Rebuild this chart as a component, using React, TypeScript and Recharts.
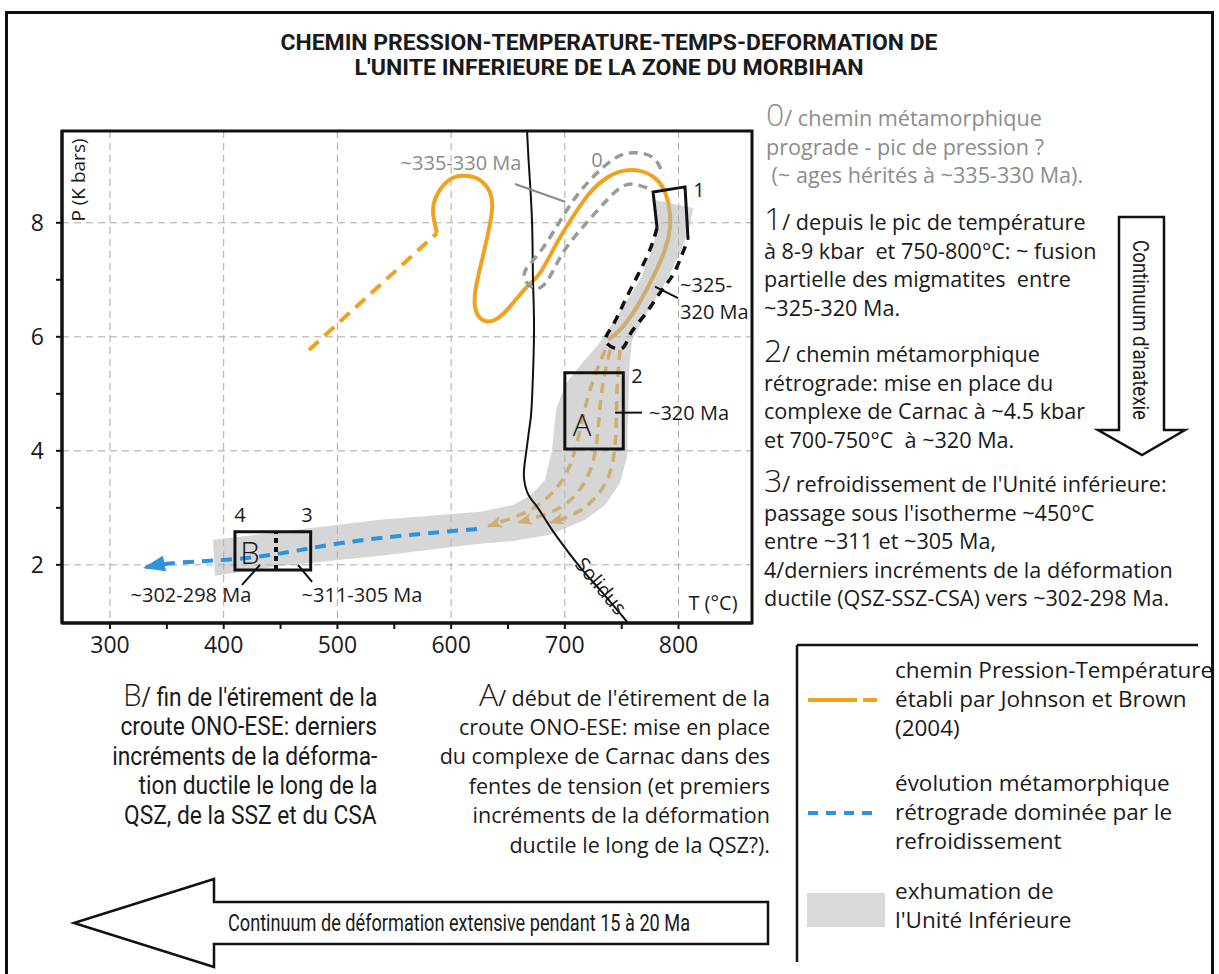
import React from "react";
import {
  ScatterChart,
  Scatter,
  XAxis,
  YAxis,
  CartesianGrid,
  ReferenceArea,
} from "recharts";

// axes
const tempTicks = [300, 350, 400, 450, 500, 550, 600, 650, 700, 750, 800];
const tempLabels = [300, 400, 500, 600, 700, 800];
const pressTicks = [2, 3, 4, 5, 6, 7, 8];
const pressLabels = [2, 4, 6, 8];
const tempDomain = [257.8, 864.6];
const pressDomain = [0.98, 9.61];

// paths, each point is [T (°C), P (kbar)]
const solidus = [
  [666.8, 9.61], [668.5, 8.98], [671.2, 8.0], [672.0, 7.0], [672.9, 6.07],
  [671.1, 4.89], [669.5, 4.5], [665.5, 3.9], [664.0, 3.55], [667.5, 3.25],
  [675.5, 3.02], [684.3, 2.75], [693.1, 2.49], [713.4, 1.96], [731.0, 1.56],
  [755.6, 0.98],
];
const jbDashed = [[475.0, 5.77], [587.6, 7.82]];
const jbSolid = [
  [587.6, 7.82], [584.1, 8.23], [590.2, 8.58], [601.7, 8.79], [614.0, 8.82],
  [625.4, 8.75], [634.2, 8.53], [636.0, 8.23], [632.5, 7.82], [627.2, 7.35],
  [621.9, 6.88], [621.0, 6.53], [627.2, 6.3], [638.6, 6.3], [651.8, 6.53],
  [666.8, 6.88], [678.2, 7.12], [693.1, 7.65], [707.2, 8.11], [722.2, 8.53],
  [737.1, 8.79], [751.2, 8.91], [766.1, 8.91], [777.6, 8.81], [786.4, 8.61],
  [791.6, 8.28], [792.5, 7.93], [788.1, 7.53], [777.6, 7.05], [763.5, 6.53],
  [748.5, 6.12], [738.0, 5.95],
];
const fanRight = [
  [748.5, 5.77], [745.9, 5.07], [745.0, 4.37], [741.5, 3.75], [730.9, 3.28],
  [711.6, 2.93], [687.0, 2.74],
];
const fanMid = [
  [739.8, 5.77], [732.7, 5.07], [729.2, 4.37], [723.9, 3.75], [711.6, 3.28],
  [691.4, 2.96], [658.8, 2.74],
];
const fanLeft = [
  [735.4, 5.77], [722.2, 5.07], [713.4, 4.37], [704.6, 3.75], [691.4, 3.32],
  [669.4, 2.96], [632.5, 2.68],
];
const cooling = [
  [622.8, 2.63], [537.5, 2.47], [478.5, 2.3], [420.5, 2.12], [361.6, 2.04],
  [329.9, 1.95],
];
const exhumation = [
  [779.3, 8.4], [812.8, 8.26], [810.1, 7.96], [801.3, 7.47], [789.9, 7.0],
  [772.3, 6.42], [759.1, 5.95], [756.5, 5.42], [755.6, 4.6], [754.7, 3.89],
  [748.5, 3.44], [735.4, 3.05], [717.8, 2.79], [687.0, 2.53], [654.4, 2.42],
  [625.4, 2.37], [537.5, 2.16], [449.5, 1.98], [392.3, 1.81], [390.6, 2.44],
  [449.5, 2.58], [537.5, 2.79], [625.4, 2.93], [654.4, 3.05], [669.4, 3.21],
  [682.6, 3.49], [688.7, 4.02], [692.3, 4.72], [700.2, 5.16], [717.8, 5.6],
  [729.2, 5.86], [745.9, 6.35], [766.1, 7.0], [777.6, 7.58], [781.1, 7.96],
];
const prograde0 = [
  [772.3, 8.61], [754.7, 8.67], [737.1, 8.4], [716.0, 7.93], [695.8, 7.39],
  [678.2, 6.86], [664.1, 7.07], [678.2, 7.49], [702.0, 8.23], [722.2, 8.75],
  [742.4, 9.11], [760.0, 9.23], [777.6, 9.14], [786.4, 8.84],
];
const peakBracket = [[781.1, 7.91], [777.6, 8.54], [805.7, 8.63], [808.4, 7.7]];
const meltOutline = [
  [781.1, 7.91], [774.9, 7.53], [764.4, 7.09], [752.1, 6.6], [741.5, 6.18],
  [736.2, 5.91], [749.4, 5.79], [757.3, 6.04], [770.5, 6.39], [783.6, 6.77],
  [795.1, 7.09], [803.0, 7.44], [808.4, 7.7],
];
// emplacement box (A) and late-deformation box (B)
const boxAT = [700, 751.4];
const boxAP = [4.03, 5.37];
const boxBT = [409.9, 476.5];
const boxBP = [1.91, 2.58];
const boxBSplit = 446;

const leaders = [
  { pts: [[656.2, 8.68], [700.2, 8.37]], color: "#8a8a8a" },
  { pts: [[779.3, 6.88], [799.6, 6.68]], color: "#111" },
  { pts: [[744.2, 4.67], [767.9, 4.67]], color: "#111" },
  { pts: [[431.9, 2.0], [416.1, 1.65]], color: "#111" },
  { pts: [[465.3, 2.0], [477.7, 1.7]], color: "#111" },
];

const notes = [
  { T: 608.7, P: 9.05, text: "~335-330 Ma", color: "#8a8a8a" },
  { T: 728.3, P: 9.11, text: "0", color: "#8a8a8a" },
  { T: 818.0, P: 8.58, text: "1" },
  { T: 801.3, P: 6.91, text: "~325-", anchor: "start" },
  { T: 801.3, P: 6.44, text: "320 Ma", anchor: "start" },
  { T: 763.5, P: 5.32, text: "2" },
  { T: 809.2, P: 4.67, text: "~320 Ma" },
  { T: 715.1, P: 4.46, text: "A", size: 31, weight: 300 },
  { T: 414.3, P: 2.88, text: "4" },
  { T: 473.3, P: 2.88, text: "3" },
  { T: 423.1, P: 2.21, text: "B", size: 31, weight: 300 },
  { T: 521.6, P: 1.47, text: "~311-305 Ma" },
  { T: 371.2, P: 1.47, text: "~302-298 Ma" },
  { T: 271.9, P: 8.75, text: "P (K bars)", rotate: -90, size: 19 },
  { T: 830.3, P: 1.33, text: "T (°C)" },
  { T: 731.8, P: 1.63, text: "Solidus", rotate: 50 },
];

const W = 1219;
const H = 974;
const INK = "#1a1a1a";
const ORANGE = "#f0a21e";
const BLUE = "#2b93e0";
const GREY = "#8c8c8c";
const SANS = "'Open Sans', 'Noto Sans', sans-serif";
const COND = "Roboto, 'Liberation Sans', sans-serif";

const pts = (a: number[][]) => a.map(([T, P]) => ({ T, P }));
const rect = (t: number[], p: number[]) => [[t[0], p[0]], [t[1], p[0]], [t[1], p[1]], [t[0], p[1]]];
const NoDot = () => <g />;

function pathSeries(key: string, data: number[][], line: any, joint = "natural") {
  return (
    <Scatter
      key={key}
      name={key}
      data={pts(data)}
      shape={NoDot}
      line={line}
      lineJointType={joint as any}
      isAnimationActive={false}
      legendType="none"
    />
  );
}

const NoteText = (p: any) => {
  const a = p.payload || {};
  return (
    <text
      x={p.cx}
      y={p.cy}
      dy="0.36em"
      textAnchor={a.anchor || "middle"}
      fontSize={a.size || 20}
      fontWeight={a.weight || 400}
      fill={a.color || INK}
      fontFamily={SANS}
      transform={a.rotate ? `rotate(${a.rotate} ${p.cx} ${p.cy})` : undefined}
    >
      {a.text}
    </text>
  );
};

const Big = ({ c }: { c: string }) => (
  <span style={{ fontFamily: SANS, fontSize: 32, fontWeight: 300, lineHeight: 0 }}>{c}</span>
);

type BlockProps = {
  lines: React.ReactNode[];
  x: number;
  top: number;
  lh: number;
  size: number;
  color?: string;
  align?: "left" | "right";
  family?: string;
  squeeze?: number;
};

function LineBlock({ lines, x, top, lh, size, color = INK, align = "left", family = SANS, squeeze = 1 }: BlockProps) {
  return (
    <>
      {lines.map((ln, i) => (
        <div
          key={i}
          style={{
            position: "absolute",
            top: top + i * lh,
            height: lh,
            lineHeight: `${lh}px`,
            fontSize: size,
            fontFamily: family,
            color,
            whiteSpace: "pre",
            transform: squeeze !== 1 ? `scaleX(${squeeze})` : undefined,
            transformOrigin: align === "right" ? "right center" : "left center",
            ...(align === "right" ? { right: W - x, textAlign: "right" as const } : { left: x }),
          }}
        >
          {ln}
        </div>
      ))}
    </>
  );
}

function PTChart() {
  const tickStyle = { fontSize: 23, fill: INK, fontFamily: SANS };
  return (
    <ScatterChart width={760} height={680} margin={{ top: 131, right: 8, bottom: 17, left: 2 }}>
      <CartesianGrid
        horizontalValues={pressLabels}
        verticalValues={tempLabels}
        stroke="#a8a8a8"
        strokeDasharray="7 5"
      />
      <XAxis
        type="number"
        dataKey="T"
        domain={tempDomain}
        ticks={tempTicks}
        interval={0}
        allowDataOverflow
        height={40}
        tickSize={6}
        tickMargin={8}
        axisLine={{ stroke: "#111", strokeWidth: 3 }}
        tickLine={{ stroke: "#111", strokeWidth: 2 }}
        tick={tickStyle}
        tickFormatter={(v: number) => (tempLabels.includes(v) ? String(v) : "")}
      />
      <YAxis
        type="number"
        dataKey="P"
        domain={pressDomain}
        ticks={pressTicks}
        interval={0}
        allowDataOverflow
        width={60}
        tickSize={6}
        tickMargin={12}
        axisLine={{ stroke: "#111", strokeWidth: 3 }}
        tickLine={{ stroke: "#111", strokeWidth: 2 }}
        tick={tickStyle}
        tickFormatter={(v: number) => (pressLabels.includes(v) ? String(v) : "")}
      />

      {pathSeries("jbDashed", jbDashed, { stroke: ORANGE, strokeWidth: 4, strokeDasharray: "13 8" }, "linear")}
      {pathSeries("jbSolid", jbSolid, { stroke: ORANGE, strokeWidth: 4 })}
      {pathSeries("fanRight", fanRight, { stroke: ORANGE, strokeWidth: 3.5, strokeDasharray: "10 7", markerEnd: "url(#orangeHead)" })}
      {pathSeries("fanMid", fanMid, { stroke: ORANGE, strokeWidth: 3.5, strokeDasharray: "10 7", markerEnd: "url(#orangeHead)" })}
      {pathSeries("fanLeft", fanLeft, { stroke: ORANGE, strokeWidth: 3.5, strokeDasharray: "10 7", markerEnd: "url(#orangeHead)" })}
      {pathSeries("exhumation", exhumation, { stroke: "none", fill: "#b4b4b4", fillOpacity: 0.55 }, "linearClosed")}
      {pathSeries("solidus", solidus, { stroke: "#111", strokeWidth: 2 })}
      {pathSeries("prograde0", prograde0, { stroke: "#9a9a9a", strokeWidth: 3.5, strokeDasharray: "9 6" })}
      {pathSeries("meltOutline", meltOutline, { stroke: "#111", strokeWidth: 3.5, strokeDasharray: "9 7" })}
      {pathSeries("peakBracket", peakBracket, { stroke: "#111", strokeWidth: 3 }, "linear")}
      {pathSeries("boxA", rect(boxAT, boxAP), { stroke: "#111", strokeWidth: 3 }, "linearClosed")}
      {pathSeries("boxB", rect(boxBT, boxBP), { stroke: "#111", strokeWidth: 3 }, "linearClosed")}
      {pathSeries("boxBSplit", [[boxBSplit, boxBP[0]], [boxBSplit, boxBP[1]]], { stroke: "#111", strokeWidth: 4, strokeDasharray: "5 4" }, "linear")}
      {leaders.map((l, i) => pathSeries(`leader${i}`, l.pts, { stroke: l.color, strokeWidth: 2 }, "linear"))}
      {pathSeries("cooling", cooling, { stroke: BLUE, strokeWidth: 4, strokeDasharray: "11 8", markerEnd: "url(#blueHead)" })}

      <ReferenceArea
        x1={tempDomain[0]}
        x2={tempDomain[1]}
        y1={pressDomain[0]}
        y2={pressDomain[1]}
        fill="none"
        stroke="#111"
        strokeWidth={3}
        ifOverflow="visible"
      />
      <Scatter data={notes} shape={NoteText} isAnimationActive={false} legendType="none" />
    </ScatterChart>
  );
}

export default function App() {
  return (
    <div style={{ position: "absolute", left: 0, top: 0, width: W, height: H, background: "#fff", overflow: "hidden", color: INK }}>
      <svg width={0} height={0} style={{ position: "absolute" }}>
        <defs>
          <marker id="blueHead" viewBox="0 0 22 16" refX="21" refY="8" markerWidth="22" markerHeight="16" markerUnits="userSpaceOnUse" orient="auto">
            <path d="M0,0 L22,8 L0,16 Z" fill={BLUE} />
          </marker>
          <marker id="orangeHead" viewBox="0 0 15 12" refX="14" refY="6" markerWidth="15" markerHeight="12" markerUnits="userSpaceOnUse" orient="auto">
            <path d="M0,0 L15,6 L0,12 L4,6 Z" fill={ORANGE} />
          </marker>
        </defs>
      </svg>

      {/* outer frame */}
      <div style={{ position: "absolute", left: 5, top: 11, width: 1209, height: 1000, border: "3px solid #111", boxSizing: "border-box" }} />

      {/* title, arrows and legend symbols */}
      <svg width={W} height={H} style={{ position: "absolute", left: 0, top: 0 }}>
        <g fontFamily={COND} fontWeight={700} fontSize={21.5} fill={INK} textAnchor="middle">
          <text x={609} y={49.5} textLength={657} lengthAdjust="spacingAndGlyphs">
            CHEMIN PRESSION-TEMPERATURE-TEMPS-DEFORMATION DE
          </text>
          <text x={609} y={74.5} textLength={509} lengthAdjust="spacingAndGlyphs">
            L'UNITE INFERIEURE DE LA ZONE DU MORBIHAN
          </text>
        </g>
        <polygon
          points="74,923 214,879 214,902 768,902 768,944 214,944 214,967"
          fill="#fff"
          stroke="#111"
          strokeWidth={2.5}
        />
        <text x={228} y={923} dy="0.35em" fontFamily={COND} fontSize={24} fill={INK} textLength={462} lengthAdjust="spacingAndGlyphs">
          Continuum de déformation extensive pendant 15 à 20 Ma
        </text>
        <polygon
          points="1119,217 1164,217 1164,430 1185,430 1142,455 1098,430 1119,430"
          fill="#fff"
          stroke="#111"
          strokeWidth={2.5}
        />
        <text
          x={1141}
          y={330}
          dy="0.35em"
          transform="rotate(90 1141 330)"
          textAnchor="middle"
          fontFamily={COND}
          fontSize={22}
          fill={INK}
          textLength={180}
          lengthAdjust="spacingAndGlyphs"
        >
          Continuum d'anatexie
        </text>
        <line x1={797} y1={645} x2={1198} y2={645} stroke="#111" strokeWidth={2.5} />
        <line x1={797} y1={645} x2={797} y2={962} stroke="#111" strokeWidth={2.5} />
        <line x1={808} y1={700} x2={857} y2={700} stroke={ORANGE} strokeWidth={4} />
        <line x1={863} y1={700} x2={877} y2={700} stroke={ORANGE} strokeWidth={4} />
        <line x1={808} y1={813} x2={880} y2={813} stroke={BLUE} strokeWidth={4} strokeDasharray="10 8" />
        <rect x={807} y={893} width={78} height={34} fill="#d9d9d9" />
      </svg>

      <div style={{ position: "absolute", left: 0, top: 0 }}>
        <PTChart />
      </div>

      {/* right-hand notes */}
      <LineBlock
        lines={[<><Big c="0" />/ chemin métamorphique</>, "prograde - pic de pression ?", " (~ ages hérités à ~335-330 Ma)."]}
        x={766}
        top={104.2}
        lh={28.5}
        size={21.6}
        color={GREY}
      />
      <LineBlock
        lines={[<><Big c="1" />/ depuis le pic de température</>, "à 8-9 kbar  et 750-800°C: ~ fusion", "partielle des migmatites  entre", "~325-320 Ma."]}
        x={764}
        top={208.2}
        lh={28.5}
        size={21.6}
      />
      <LineBlock
        lines={[<><Big c="2" />/ chemin métamorphique</>, "rétrograde: mise en place du", "complexe de Carnac à ~4.5 kbar", "et 700-750°C  à ~320 Ma."]}
        x={764}
        top={340.2}
        lh={28.5}
        size={21.6}
      />
      <LineBlock
        lines={[
          <><Big c="3" />/ refroidissement de l'Unité inférieure:</>,
          "passage sous l'isotherme ~450°C",
          "entre ~311 et ~305 Ma,",
          "4/derniers incréments de la déformation",
          "ductile (QSZ-SSZ-CSA) vers ~302-298 Ma.",
        ]}
        x={764}
        top={470.2}
        lh={28.5}
        size={21.6}
      />

      {/* bottom notes */}
      <LineBlock
        lines={[
          <><Big c="B" />/ fin de l'étirement de la</>,
          "croute ONO-ESE: derniers",
          "incréments de la déforma-",
          "tion ductile le long de la",
          "QSZ, de la SSZ et du CSA",
        ]}
        x={377}
        top={683}
        lh={29.4}
        size={25}
        align="right"
        family={COND}
        squeeze={0.91}
      />
      <LineBlock
        lines={[
          <><Big c="A" />/ début de l'étirement de la</>,
          "croute ONO-ESE: mise en place",
          "du complexe de Carnac dans des",
          "fentes de tension (et premiers",
          "incréments de la déformation",
          "ductile le long de la QSZ?).",
        ]}
        x={770}
        top={682.6}
        lh={29.4}
        size={21.5}
        align="right"
      />

      {/* legend */}
      <LineBlock lines={["chemin Pression-Température", "établi par Johnson et Brown", "(2004)"]} x={895} top={654.6} lh={29} size={22.5} />
      <LineBlock lines={["évolution métamorphique", "rétrograde dominée par le", "refroidissement"]} x={895} top={767.6} lh={29} size={22.5} />
      <LineBlock lines={["exhumation de", "l'Unité Inférieure"]} x={895} top={875.6} lh={29} size={22.5} />
    </div>
  );
}
